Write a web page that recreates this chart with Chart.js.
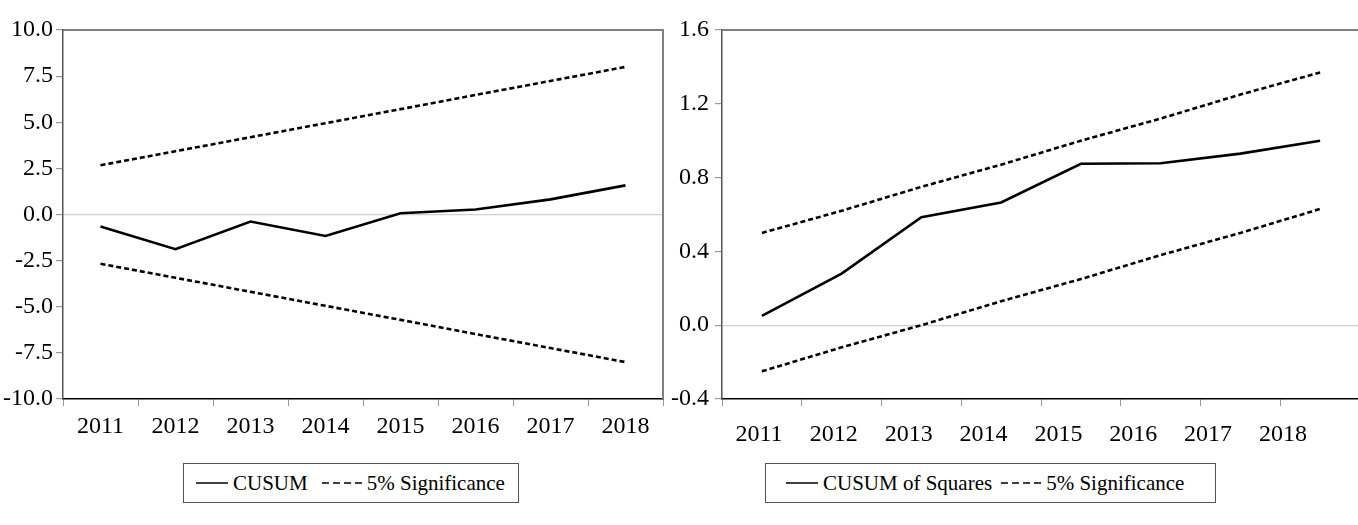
<!DOCTYPE html>
<html>
<head>
<meta charset="utf-8">
<script src="https://cdn.jsdelivr.net/npm/chart.js"></script>
<style>
html, body { margin: 0; padding: 0; background: #fff; overflow: hidden; }
body { width: 1358px; height: 525px; position: relative; }
.box { position: absolute; top: 0; height: 450px; }
.legend { position: absolute; top: 463px; height: 40px; box-sizing: border-box; border: 1.5px solid #555;
  display: flex; align-items: center; font-size: 21px; color: #000; white-space: nowrap;
  font-family: "Liberation Serif", "Times New Roman", serif; }
.legend .item { display: flex; align-items: center; }
.legend svg { margin-right: 5px; }
</style>
</head>
<body>

<div class="box" style="left:0;width:680px"><canvas id="cusum"></canvas></div>
<div class="box" style="left:664px;width:706px"><canvas id="cusumsq"></canvas></div>
<div class="legend" id="leg1" style="left:183px;width:336px;padding-left:12px"></div>
<div class="legend" id="leg2" style="left:765px;width:451px;padding-left:20px"></div>

<script>
const years = ["2011", "2012", "2013", "2014", "2015", "2016", "2017", "2018"];

// CUSUM test
const cusum      = [-0.65, -1.88, -0.38, -1.16, 0.07, 0.27, 0.82, 1.58];
const cusumUpper = [2.67, 3.43, 4.19, 4.95, 5.71, 6.48, 7.24, 8.00];
const cusumLower = [-2.67, -3.43, -4.19, -4.95, -5.71, -6.48, -7.24, -8.00];

// CUSUM of squares test
const cusumSq      = [0.05, 0.28, 0.585, 0.665, 0.875, 0.878, 0.93, 1.00];
const cusumSqUpper = [0.50, 0.62, 0.75, 0.87, 1.00, 1.12, 1.25, 1.37];
const cusumSqLower = [-0.25, -0.12, 0.00, 0.13, 0.25, 0.38, 0.50, 0.63];

const sigLabel = "5% Significance";
const font = { family: "'Liberation Serif', 'Times New Roman', serif", size: 24 };

const framePlugin = {
  id: "frame",
  afterDraw(chart) {
    const { ctx, chartArea: a } = chart;
    ctx.save();
    ctx.strokeStyle = "#808080";
    ctx.lineWidth = 2;
    ctx.beginPath();
    ctx.moveTo(a.left, a.top);
    ctx.lineTo(a.right, a.top);
    ctx.lineTo(a.right, a.bottom);
    ctx.stroke();
    ctx.restore();
  }
};

function lineSet(label, data, dashed) {
  return {
    label: label,
    data: data,
    borderColor: "#000",
    borderWidth: 2.6,
    borderDash: dashed ? [5, 3] : [],
    pointRadius: 0,
    tension: 0,
    fill: false
  };
}

function yAxis(min, max, step, width, pad) {
  return {
    min: min, max: max,
    ticks: { stepSize: step, color: "#000", font: font, padding: pad,
             callback: v => v.toFixed(1) },
    grid: {
      color: c => Math.abs(c.tick.value) < 1e-9 ? "#d0d0d0" : "rgba(0,0,0,0)",
      tickColor: "#999", tickLength: 7, lineWidth: 1.2
    },
    border: { color: "#555", width: 1.5 },
    afterFit(s) { s.width = width; }
  };
}

const xCommon = {
  type: "category",
  offset: true,
  grid: { offset: true, drawOnChartArea: false, tickLength: 7, tickColor: "#999" },
  border: { color: "#000", width: 1.5 }
};

new Chart(document.getElementById("cusum"), {
  type: "line",
  data: {
    labels: years,
    datasets: [
      lineSet("CUSUM", cusum, false),
      lineSet(sigLabel, cusumUpper, true),
      lineSet(sigLabel, cusumLower, true)
    ]
  },
  options: {
    responsive: true, maintainAspectRatio: false, animation: false,
    layout: { padding: { top: 30, right: 17, left: 0, bottom: 0 } },
    plugins: { legend: { display: false }, tooltip: { enabled: false } },
    scales: {
      x: Object.assign({}, xCommon, {
        ticks: { color: "#000", font: font, padding: 6, maxRotation: 0 },
        afterFit(s) { s.height = 51; }
      }),
      y: yAxis(-10, 10, 2.5, 63, 3)
    }
  },
  plugins: [framePlugin]
});

// EViews places the year labels of this panel on its own spacing
new Chart(document.getElementById("cusumsq"), {
  type: "line",
  data: {
    labels: years,
    datasets: [
      lineSet("CUSUM of Squares", cusumSq, false),
      lineSet(sigLabel, cusumSqUpper, true),
      lineSet(sigLabel, cusumSqLower, true)
    ]
  },
  options: {
    responsive: true, maintainAspectRatio: false, animation: false,
    layout: { padding: { top: 30, right: 10, left: 0, bottom: 0 } },
    plugins: { legend: { display: false }, tooltip: { enabled: false } },
    scales: {
      x: Object.assign({}, xCommon, {
        ticks: { display: false },
        weight: 0,
        afterFit(s) { s.height = 0; }
      }),
      xLabels: {
        type: "linear", position: "bottom", weight: 1,
        min: -0.494, max: 8.029,
        grid: { display: false },
        border: { display: false },
        afterBuildTicks(s) { s.ticks = years.map((y, i) => ({ value: i })); },
        ticks: { color: "#000", font: font, padding: 13, maxRotation: 0, autoSkip: false,
                 callback: (v, i) => years[i] },
        afterFit(s) { s.height = 51; }
      },
      y: yAxis(-0.4, 1.6, 0.4, 58, 6)
    }
  },
  plugins: [framePlugin]
});

function buildLegend(id, names, gap) {
  const box = document.getElementById(id);
  names.forEach((n, i) => {
    const item = document.createElement("span");
    item.className = "item";
    if (i > 0) item.style.marginLeft = gap + "px";
    const w = n.dashed ? 40 : 32;
    item.innerHTML =
      '<svg width="' + w + '" height="4"><line x1="0" y1="2" x2="' + w + '" y2="2" stroke="#000" stroke-width="1.5"' +
      (n.dashed ? ' stroke-dasharray="7 4"' : '') + '/></svg>';
    const t = document.createElement("span");
    t.textContent = n.label;
    item.appendChild(t);
    box.appendChild(item);
  });
}

buildLegend("leg1", [{ label: "CUSUM", dashed: false }, { label: sigLabel, dashed: true }], 14);
buildLegend("leg2", [{ label: "CUSUM of Squares", dashed: false }, { label: sigLabel, dashed: true }], 9);
</script>

</body>
</html>
